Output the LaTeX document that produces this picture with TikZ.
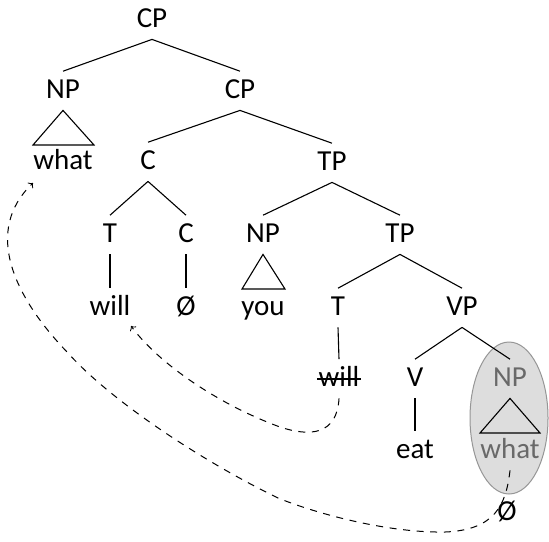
\documentclass[tikz,border=0pt]{standalone}
\usepackage{fontspec}
\setmainfont{Carlito}
\usetikzlibrary{calc}
\definecolor{ellfill}{RGB}{221,221,221}
\definecolor{elldraw}{RGB}{150,150,150}
\definecolor{graytext}{RGB}{105,105,105}
\begin{document}
\begin{tikzpicture}[x=0.5pt,y=-0.5pt,
  lbl/.style={font=\fontsize{14.5}{17}\selectfont, inner sep=4.5pt, text height=8.7pt, text depth=1.5pt, anchor=base},
  br/.style={line width=0.55pt},
  mv/.style={dash pattern=on 3.5pt off 3.3pt, line width=0.5pt, ->},
  ]
\useasboundingbox (0,0) rectangle (549,541);
% highlight ellipse
\draw[fill=ellfill, draw=elldraw, line width=0.5pt] (509,418) ellipse [x radius=19.5pt, y radius=38pt];
% nodes
\node[lbl] (cp0) at (152,27) {CP};
\node[lbl] (np1) at (63,98) {NP};
\node[lbl] (cp1) at (240,98) {CP};
\node[lbl] (what1) at (63,169) {what};
\node[lbl] (c1) at (148,169) {C};
\node[lbl] (tp1) at (332,170) {TP};
\node[lbl] (t1) at (110,242) {T};
\node[lbl] (c2) at (186,242) {C};
\node[lbl] (np2) at (263,242) {NP};
\node[lbl] (tp2) at (400,242) {TP};
\node[lbl] (will1) at (110,315) {will};
\node[lbl] (null1) at (186,315) {Ø};
\node[lbl] (you) at (263,315) {you};
\node[lbl] (t2) at (338,315) {T};
\node[lbl] (vp) at (462,315) {VP};
\node[lbl] (will2) at (339,386) {will};
\node[lbl] (v) at (415,386) {V};
\node[lbl, text=graytext] (np3) at (510,386) {NP};
\node[lbl] (eat) at (415,458) {eat};
\node[lbl, text=graytext] (what3) at (510,458) {what};
\node[lbl] (null2) at (507,520) {Ø};
% branches
\draw[br] (cp0.south) -- (np1.north);
\draw[br] (cp0.south) -- (cp1.north);
\draw[br] (cp1.south) -- (c1.north);
\draw[br] (cp1.south) -- (tp1.north);
\draw[br] (c1.south) -- (t1.north);
\draw[br] (c1.south) -- (c2.north);
\draw[br] (t1.south) -- (will1.north);
\draw[br] (c2.south) -- (null1.north);
\draw[br] (tp1.south) -- (np2.north);
\draw[br] (tp1.south) -- (tp2.north);
\draw[br] (tp2.south) -- (t2.north);
\draw[br] (tp2.south) -- (vp.north);
\draw[br] (t2.south) -- (will2.north);
\draw[br] (vp.south) -- (v.north);
\draw[br] (vp.south) -- (np3.north);
\draw[br] (v.south) -- (eat.north);
% triangles
\draw[br] (np1.south) -- ($(what1.base)+(-30,-24)$) -- ($(what1.base)+(31,-24)$) -- cycle;
\draw[br] (np2.south) -- ($(you.base)+(-21,-26)$) -- ($(you.base)+(22,-26)$) -- cycle;
\draw[br] (np3.south) -- ($(what3.base)+(-30,-25)$) -- ($(what3.base)+(30,-25)$) -- cycle;
% strike-through
\draw[br] ($(will2.base)+(-22,-7)$) -- ($(will2.base)+(22,-7)$);
% movement arrows
\coordinate (a1) at (131,326);
\coordinate (a2) at (33,183);
\draw[mv] (will2.south) .. controls (337,435) and (310,437) .. (280,427)
  .. controls (220,405) and (160,365) .. (a1);
\draw[mv] (what3.south) .. controls (506,505) and (495,530) .. (445,532)
  .. controls (390,533) and (320,515) .. (278,498)
  .. controls (200,460) and (110,400) .. (68,353)
  .. controls (12,295) and (-16,230) .. (a2);
\end{tikzpicture}
\end{document}
